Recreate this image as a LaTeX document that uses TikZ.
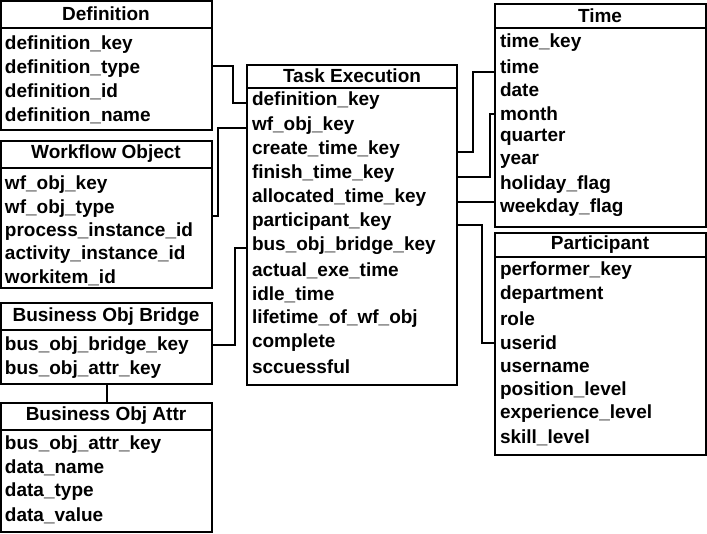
\documentclass[tikz,border=0pt]{standalone}
\usepackage{fontspec}
\setmainfont{Liberation Sans}
\begin{document}
\begin{tikzpicture}[x=1pt,y=-1pt,line width=2pt,
  hdr/.style={font=\bfseries\fontsize{19}{21}\selectfont,anchor=center,inner sep=0},
  row/.style={font=\bfseries\fontsize{19}{21}\selectfont,anchor=west,inner sep=0},
  conn/.style={draw,line width=2pt}]
\useasboundingbox (0,0) rectangle (707,533);
% Definition
\draw (1,1) rectangle (212,130); \draw (1,28) -- (212,28);
\node[hdr] (defh) at (106,14) {Definition};
\node[row] (d1) at (4,45) {definition\_key};
\node[row] (d2) at (4,69) {definition\_type};
\node[row] (d3) at (4,92) {definition\_id};
\node[row] (d4) at (4,116) {definition\_name};
% Workflow Object
\draw (1,141) rectangle (212,288); \draw (1,168) -- (212,168);
\node[hdr] (wfh) at (106,154) {Workflow Object};
\node[row] (w1) at (4,185) {wf\_obj\_key};
\node[row] (w2) at (4,209) {wf\_obj\_type};
\node[row] (w3) at (4,232) {process\_instance\_id};
\node[row] (w4) at (4,255) {activity\_instance\_id};
\node[row] (w5) at (4,278) {workitem\_id};
% Bridge
\draw (1,303) rectangle (212,384); \draw (1,330) -- (212,330);
\node[hdr] (bbh) at (106,317) {Business Obj Bridge};
\node[row] (b1) at (4,346) {bus\_obj\_bridge\_key};
\node[row] (b2) at (4,370) {bus\_obj\_attr\_key};
% Attr
\draw (1,403) rectangle (212,532); \draw (1,430) -- (212,430);
\node[hdr] (bah) at (106,416) {Business Obj Attr};
\node[row] (a1) at (4,445) {bus\_obj\_attr\_key};
\node[row] (a2) at (4,468) {data\_name};
\node[row] (a3) at (4,492) {data\_type};
\node[row] (a4) at (4,516) {data\_value};
% Task Execution
\draw (247,65) rectangle (457,385); \draw (247,88) -- (457,88);
\node[hdr] (teh) at (352,76) {Task Execution};
\node[row] (t1) at (251,101) {definition\_key};
\node[row] (t2) at (251,126) {wf\_obj\_key};
\node[row] (t3) at (251,150) {create\_time\_key};
\node[row] (t4) at (251,174) {finish\_time\_key};
\node[row] (t5) at (251,198) {allocated\_time\_key};
\node[row] (t6) at (251,222) {participant\_key};
\node[row] (t7) at (251,246) {bus\_obj\_bridge\_key};
\node[row] (t8) at (251,271) {actual\_exe\_time};
\node[row] (t9) at (251,295) {idle\_time};
\node[row] (t10) at (251,319) {lifetime\_of\_wf\_obj};
\node[row] (t11) at (251,343) {complete};
\node[row] (t12) at (251,367) {sccuessful};
% Time
\draw (495,4) rectangle (706,227); \draw (495,28) -- (706,28);
\node[hdr] (tih) at (600,16) {Time};
\node[row] (m1) at (499,43) {time\_key};
\node[row] (m2) at (499,67) {time};
\node[row] (m3) at (499,90) {date};
\node[row] (m4) at (499,114) {month};
\node[row] (m5) at (499,137) {quarter};
\node[row] (m6) at (499,161) {year};
\node[row] (m7) at (499,185) {holiday\_flag};
\node[row] (m8) at (499,208) {weekday\_flag};
% Participant
\draw (495,233) rectangle (706,455); \draw (495,257) -- (706,257);
\node[hdr] (pah) at (600,245) {Participant};
\node[row] (p1) at (499,271) {performer\_key};
\node[row] (p2) at (499,295) {department};
\node[row] (p3) at (499,319) {role};
\node[row] (p4) at (499,343) {userid};
\node[row] (p5) at (499,367) {username};
\node[row] (p6) at (499,391) {position\_level};
\node[row] (p7) at (499,414) {experience\_level};
\node[row] (p8) at (499,438) {skill\_level};
% connectors
\coordinate (L) at (212,0); \coordinate (TL) at (247,0);
\coordinate (TR) at (457,0); \coordinate (R) at (495,0);
\draw[conn] (L |- 0,66) -| (233,103) -- (TL |- 0,103);
\draw[conn] (L |- 0,216) -| (218,128) -- (TL |- 0,128);
\draw[conn] (L |- 0,345) -| (235,248) -- (TL |- 0,248);
\draw[conn] (107,384) -- (107,403);
\draw[conn] (R |- 0,72) -| (473,152) -- (TR |- 0,152);
\draw[conn] (R |- 0,114) -| (490,177) -- (TR |- 0,177);
\draw[conn] (TR |- 0,202) -- (R |- 0,202);
\draw[conn] (TR |- 0,225) -| (482,343) -- (R |- 0,343);
\end{tikzpicture}
\end{document}
